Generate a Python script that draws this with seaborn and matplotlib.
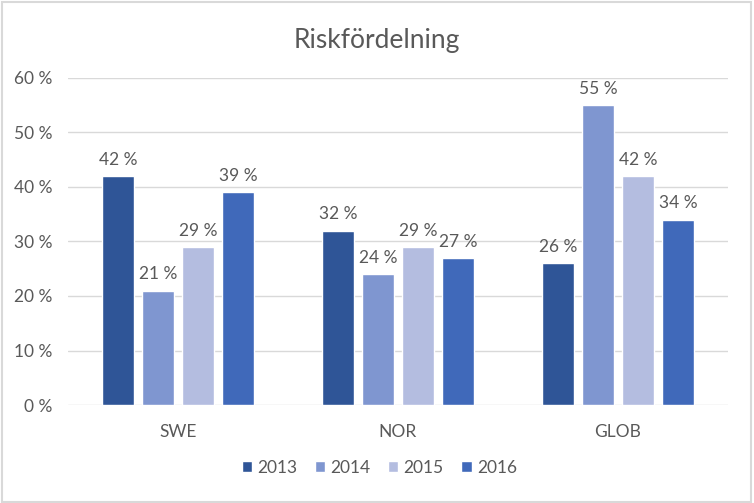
import pandas as pd
import seaborn as sns
import matplotlib.pyplot as plt
from matplotlib.patches import Rectangle

# -----------------------------
# Data
# -----------------------------
regions = ["SWE", "NOR", "GLOB"]
years = ["2013", "2014", "2015", "2016"]
v2013 = [42, 32, 26]
v2014 = [21, 24, 55]
v2015 = [29, 29, 42]
v2016 = [39, 27, 34]
colors = ["#2F5597", "#7F96D0", "#B4BDE0", "#4069BA"]

rows = []
for year, vals in zip(years, [v2013, v2014, v2015, v2016]):
    for reg, v in zip(regions, vals):
        rows.append({"region": reg, "year": year, "value": v})
df = pd.DataFrame(rows)

# -----------------------------
# Plot
# -----------------------------
sns.set_style("white")
plt.rcParams["font.family"] = ["Lato", "DejaVu Sans"]
txt = "#595959"

fig = plt.figure(figsize=(7.54, 5.03), dpi=100)
ax = fig.add_axes([0.0902, 0.1948, 0.8753, 0.6502])

sns.barplot(data=df, x="region", y="value", hue="year", order=regions,
            hue_order=years, palette=colors, width=0.727, gap=0.2,
            saturation=1, ax=ax, legend=True)

for cont in ax.containers:
    ax.bar_label(cont, labels=[f"{int(v)} %" for v in cont.datavalues],
                 padding=6, fontsize=12.5, color=txt)

ax.set_ylim(0, 60)
ax.set_xlim(-0.5, 2.5)
ax.set_yticks(range(0, 61, 10))
ax.set_yticklabels([f"{t} %" for t in range(0, 61, 10)])
ax.yaxis.grid(True, color="#D9D9D9", linewidth=1)
ax.set_axisbelow(True)
for s in ax.spines.values():
    s.set_visible(False)
ax.tick_params(axis="both", length=0, labelsize=12.5, colors=txt)
ax.tick_params(axis="y", pad=11.5)
ax.tick_params(axis="x", pad=14)
ax.set_xlabel("")
ax.set_ylabel("")

fig.suptitle("Riskfördelning", y=0.945, fontsize=19, color=txt)

handles, labels = ax.get_legend_handles_labels()
ax.legend(handles, labels, loc="center", bbox_to_anchor=(0.503, 0.07),
          bbox_transform=fig.transFigure, ncol=4, frameon=False,
          fontsize=12.5, labelcolor=txt, handlelength=0.6, handleheight=0.6,
          handletextpad=0.3, columnspacing=1.0)

fig.patches.append(Rectangle((0.002, 0.002), 0.994, 0.994, transform=fig.transFigure,
                             fill=False, edgecolor="#D9D9D9", linewidth=1.5))

plt.savefig("out.png", dpi=100)
plt.close()
